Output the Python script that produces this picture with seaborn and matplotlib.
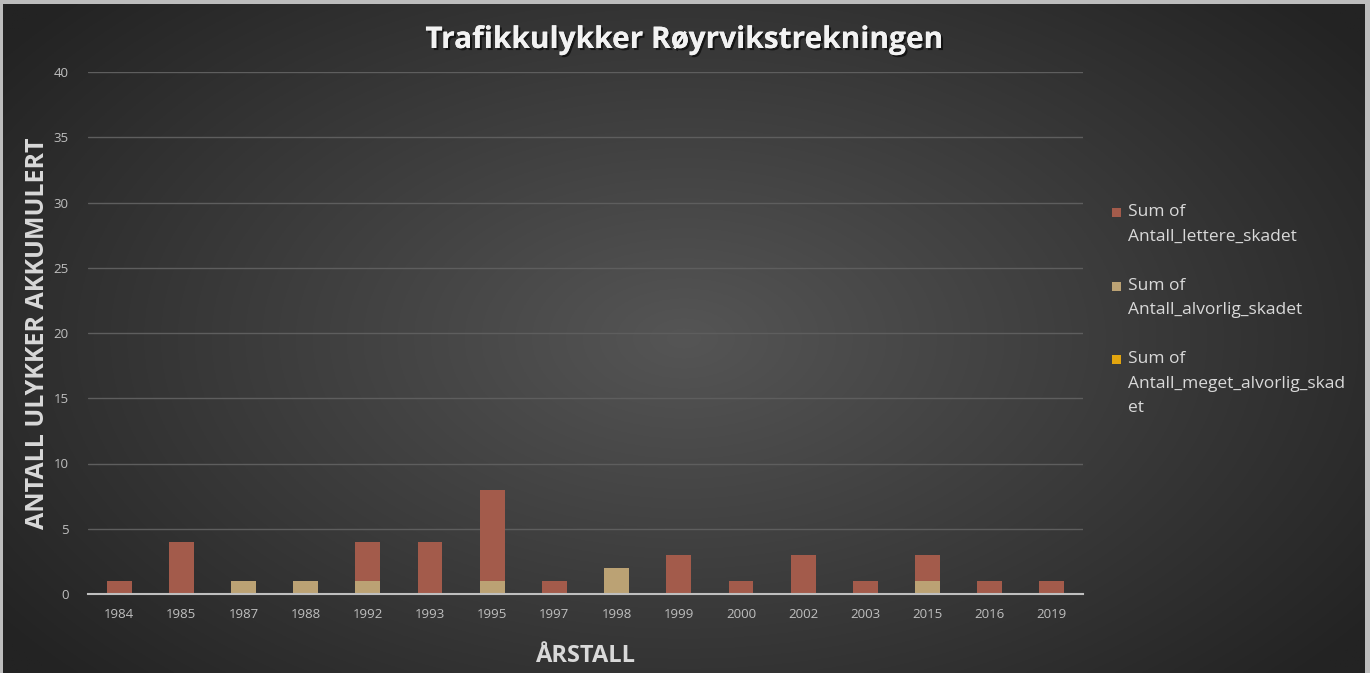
import numpy as np
import pandas as pd
import matplotlib
matplotlib.use("Agg")
import matplotlib.pyplot as plt
import matplotlib.patheffects as pe
from matplotlib.patches import Rectangle
import seaborn as sns

years = ["1984", "1985", "1987", "1988", "1992", "1993", "1995", "1997",
         "1998", "1999", "2000", "2002", "2003", "2015", "2016", "2019"]
lettere = [1, 4, 0, 0, 3, 4, 7, 1, 0, 3, 1, 3, 1, 2, 1, 1]
alvorlig = [0, 0, 1, 1, 1, 0, 1, 0, 2, 0, 0, 0, 0, 1, 0, 0]
meget_alvorlig = [0] * 16

series_names = [["Sum of", "Antall_lettere_skadet"],
                ["Sum of", "Antall_alvorlig_skadet"],
                ["Sum of", "Antall_meget_alvorlig_skad", "et"]]
colors = ["#A35B4B", "#BBA274", "#E2A50F"]

sns.set_theme(style="dark")
plt.rcParams["font.family"] = ["Open Sans", "DejaVu Sans"]

W, H = 1370, 673
fig = plt.figure(figsize=(W / 100, H / 100), dpi=100)
fig.patch.set_facecolor("#BDBDBD")

# background radial gradient
bg = fig.add_axes([3 / W, 0, 1 - 8 / W, 1 - 4 / H])
yy, xx = np.mgrid[0:1:400j, 0:1:800j]
r = np.sqrt(((xx - 0.5) / 0.62) ** 2 + ((yy - 0.5) / 0.75) ** 2)
r = np.clip(r, 0, 1)
c0 = np.array([0x55, 0x55, 0x55]) / 255
c1 = np.array([0x23, 0x23, 0x23]) / 255
img = c0[None, None, :] * (1 - r[..., None]) + c1[None, None, :] * r[..., None]
bg.imshow(img, aspect="auto", extent=[0, 1, 0, 1])
bg.set_axis_off()
bg.set_zorder(-10)

ax = fig.add_axes([88 / W, 1 - 594 / H, (1083 - 88) / W, (594 - 72) / H])
ax.set_facecolor("none")

df = pd.DataFrame({"year": years, "lettere": lettere, "alvorlig": alvorlig,
                   "meget": meget_alvorlig})
df["total"] = df["lettere"] + df["alvorlig"] + df["meget"]
df["lower"] = df["alvorlig"] + df["meget"]

for col, c, z in [("total", colors[0], 3), ("lower", colors[1], 4),
                  ("meget", colors[2], 5)]:
    sns.barplot(data=df, x="year", y=col, color=c, width=0.4,
                saturation=1, ax=ax, zorder=z, linewidth=0, edgecolor="none")

ax.set_ylim(0, 40)
ax.set_yticks(range(0, 41, 5))
ax.set_xlim(-0.5, len(years) - 0.5)
ax.grid(axis="y", color="#5E5E5E", linewidth=1, zorder=0)
ax.grid(axis="x", visible=False)
for s in ["top", "right", "left"]:
    ax.spines[s].set_visible(False)
ax.spines["bottom"].set_color("#BFBFBF")
ax.spines["bottom"].set_linewidth(1.5)
ax.spines["bottom"].set_zorder(6)
ax.tick_params(axis="both", colors="#BFBFBF", labelsize=9.5, length=0)
ax.tick_params(axis="x", pad=10)
ax.tick_params(axis="y", pad=14)

ax.set_xlabel("ÅRSTALL", color="#D9D9D9", fontsize=17, fontweight="bold")
ax.set_ylabel("ANTALL ULYKKER AKKUMULERT", color="#D9D9D9", fontsize=18,
              fontweight="bold")
ax.xaxis.set_label_coords(0.5, -0.095)
ax.yaxis.set_label_coords((38 - 88) / 995, 0.5)
ax.yaxis.label.set_va("center")

fig.text(0.5, 1 - 40 / H, "Trafikkulykker Røyrvikstrekningen",
         ha="center", va="center", color="#F2F2F2", fontsize=21.5,
         fontweight="bold",
         path_effects=[pe.withSimplePatchShadow(offset=(1.5, -1.5),
                                                shadow_rgbFace="black",
                                                alpha=0.6), pe.Normal()])

# legend (drawn manually to align the marker with the first text line)
group_top = [212, 286, 359]
line_h = 24.5
for names, c, y0 in zip(series_names, colors, group_top):
    fig.patches.append(Rectangle((1112 / W, 1 - (y0 + 4.5) / H), 9 / W, 9 / H,
                                 transform=fig.transFigure, facecolor=c,
                                 edgecolor="none"))
    for i, t in enumerate(names):
        fig.text(1128 / W, 1 - (y0 + i * line_h) / H, t, ha="left",
                 va="center", color="#D9D9D9", fontsize=12.5)

fig.savefig("out.png", dpi=100, facecolor=fig.get_facecolor())
